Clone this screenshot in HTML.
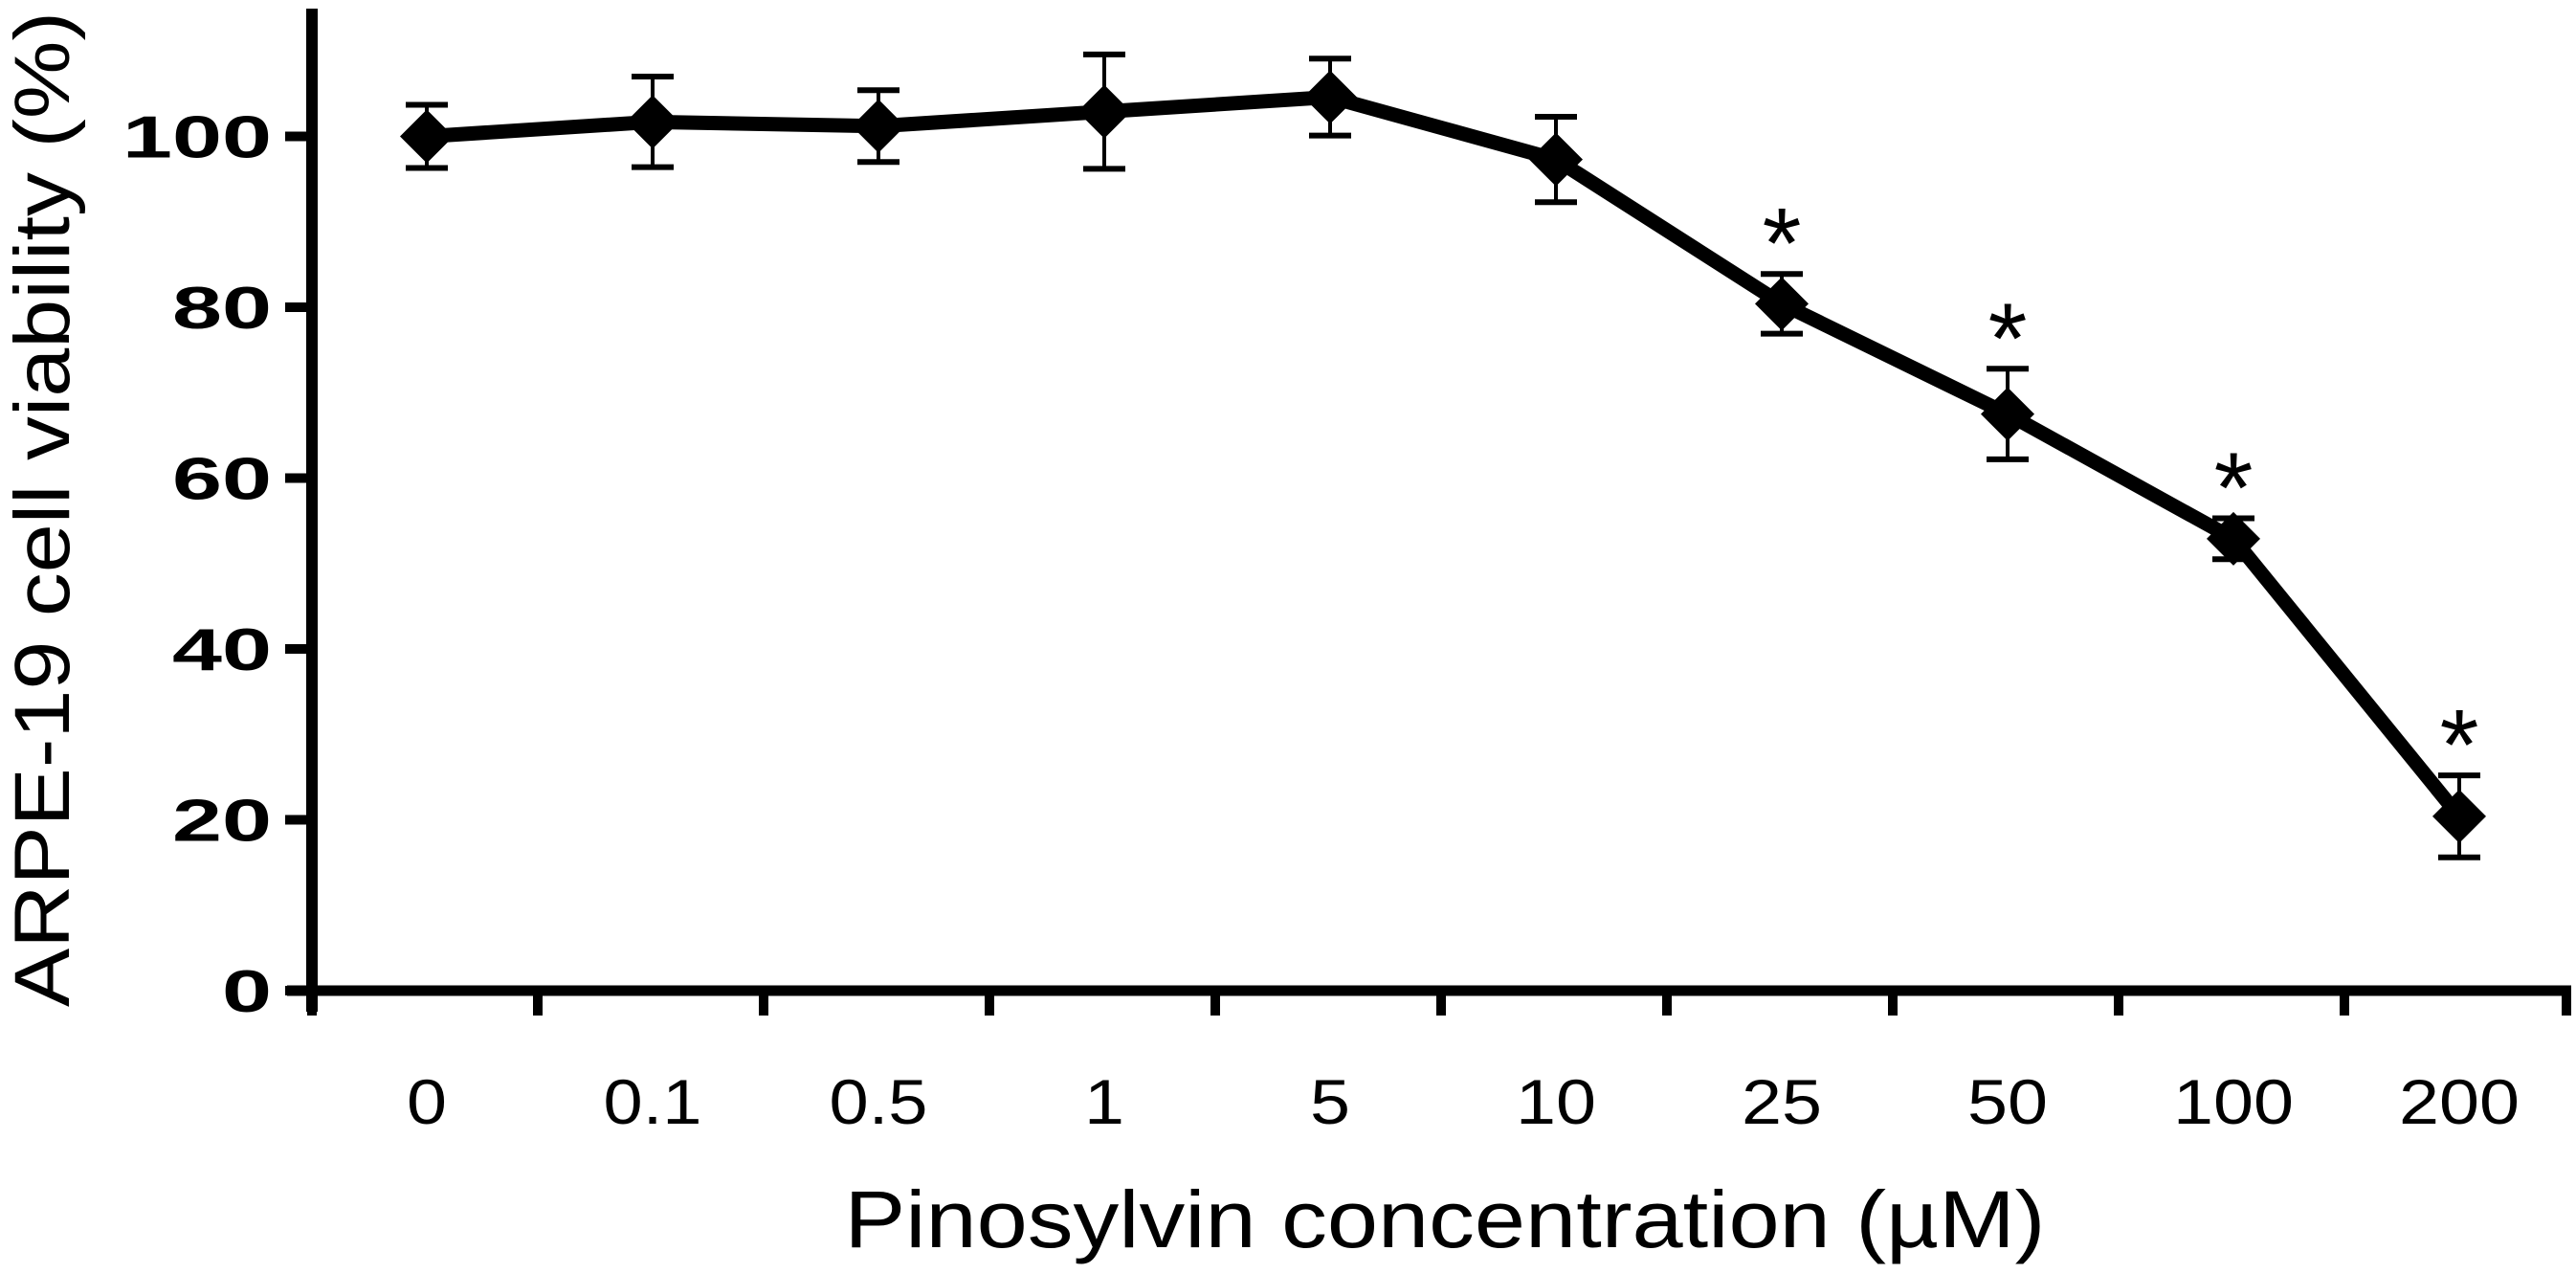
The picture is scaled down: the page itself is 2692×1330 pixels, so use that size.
<!DOCTYPE html>
<html><head><meta charset="utf-8"><style>
html,body{margin:0;padding:0;background:#fff;}
svg{display:block;}
</style></head><body>
<svg id="chart" width="2692" height="1330" viewBox="0 0 2692 1330" xmlns="http://www.w3.org/2000/svg">
<g id="axes"></g>
<g id="series"></g>
<text x="1510" y="1303" text-anchor="middle" font-family="Liberation Sans, sans-serif" font-size="84" textLength="1255" lengthAdjust="spacingAndGlyphs">Pinosylvin concentration (µM)</text>
<text transform="translate(72,532) rotate(-90)" text-anchor="middle" font-family="Liberation Sans, sans-serif" font-size="82" textLength="1040" lengthAdjust="spacingAndGlyphs">ARPE-19 cell viability (%)</text>
</svg>
<script>
const categories = ["0","0.1","0.5","1","5","10","25","50","100","200"];
const values = [100, 101.7, 101.2, 102.9, 104.6, 97.3, 80.4, 67.5, 52.9, 20.4];
const errors = [3.7, 5.3, 4.2, 6.7, 4.5, 5, 3.5, 5.3, 2.4, 4.8];
const significant = [false,false,false,false,false,false,true,true,true,true];
const yTicks = [0, 20, 40, 60, 80, 100];

const NS = "http://www.w3.org/2000/svg";
const axisX = 326, axisY = 1035, y100 = 142.5;
const catStart = 446, catStep = 236;
function yScale(v){ return axisY - (axisY - y100) * v / 100; }
function xScale(i){ return catStart + i * catStep; }
function mk(tag, attrs, parent){ const e = document.createElementNS(NS, tag); for (const k in attrs) e.setAttribute(k, attrs[k]); parent.appendChild(e); return e; }
function labelLen(s, dw){ let w = 0; for (const ch of s) w += (ch === '.') ? dw*0.45 : dw; return w; }

const axes = document.getElementById('axes');
const series = document.getElementById('series');

const ya = mk('line', {x1:axisX, y1:9, x2:axisX, y2:axisY+22, stroke:'#000','stroke-width':12}, axes);


const xa = mk('line', {x1:axisX-26, y1:axisY, x2:2687, y2:axisY, stroke:'#000','stroke-width':11}, axes);



yTicks.forEach(v => {
  const y = yScale(v);
  const t = mk('line', {x1:axisX-28, y1:y, x2:axisX, y2:y, stroke:'#000','stroke-width':10}, axes);
  
  
  const s = String(v);
  const l = mk('text', {x:284, y:y+22, 'text-anchor':'end','font-family':'Liberation Sans, sans-serif','font-size':62,'font-weight':'bold', textLength:labelLen(s,52), lengthAdjust:'spacingAndGlyphs'}, axes);
  l.textContent = s;
  
  
});

for (let i = 0; i <= categories.length; i++) {
  const x = i === categories.length ? 2682 : axisX + i * catStep;
  const t = mk('line', {x1:x, y1:axisY, x2:x, y2:axisY+26, stroke:'#000','stroke-width':10}, axes);
  
  
}
categories.forEach((c, i) => {
  const l = mk('text', {x:xScale(i), y:1174, 'text-anchor':'middle','font-family':'Liberation Sans, sans-serif','font-size':66, textLength:labelLen(c,42), lengthAdjust:'spacingAndGlyphs'}, axes);
  l.textContent = c;
  
  
});

values.forEach((v, i) => {
  const x = xScale(i), yt = yScale(v + errors[i]), yb = yScale(v - errors[i]);
  const g = mk('g', {stroke:'#000','stroke-width':4}, series);
  
  
  mk('line', {x1:x, y1:yt, x2:x, y2:yb}, g);
  mk('line', {x1:x-22, y1:yt, x2:x+22, y2:yt, 'stroke-width':6}, g);
  mk('line', {x1:x-22, y1:yb, x2:x+22, y2:yb, 'stroke-width':6}, g);
});

const pts = values.map((v, i) => xScale(i) + ',' + yScale(v)).join(' ');
const line = mk('polyline', {points:pts, fill:'none', stroke:'#000','stroke-width':15,'stroke-linejoin':'round'}, series);



values.forEach((v, i) => {
  const x = xScale(i), y = yScale(v), s = 28;
  const m = mk('polygon', {points:`${x},${y-s} ${x+s},${y} ${x},${y+s} ${x-s},${y}`, fill:'#000'}, series);
  
  
  if (significant[i]) {
    const a = mk('text', {x:x, y:yScale(v + errors[i]) + 4, 'text-anchor':'middle','font-family':'Liberation Sans, sans-serif','font-size':105}, series);
    a.textContent = '*';
    
    
  }
});
</script>
</body></html>
